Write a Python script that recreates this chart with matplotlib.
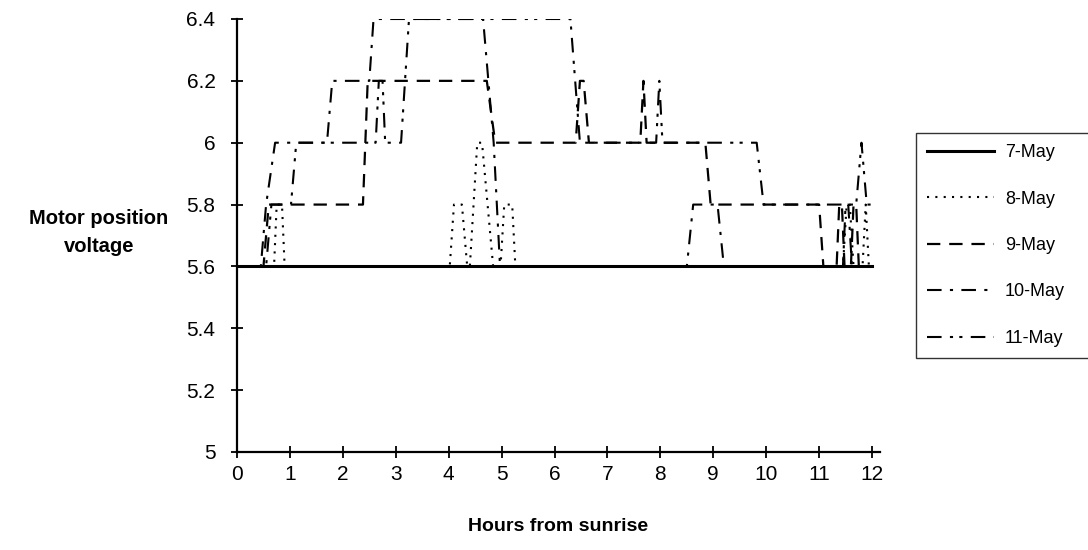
import matplotlib.pyplot as plt

plt.rcParams['font.family'] = ['Liberation Sans', 'DejaVu Sans']

# hours from sunrise / motor position voltage
may7_x = [0, 12]
may7_y = [5.6, 5.6]

may8_x = [0, 0.7, 0.75, 0.85, 0.9, 4.02, 4.1, 4.25, 4.35, 4.4, 4.54, 4.63, 4.84,
          4.98, 5.05, 5.2, 5.26, 11.45, 11.52, 11.58, 11.65, 11.82, 11.88, 11.94, 12]
may8_y = [5.6, 5.6, 5.8, 5.8, 5.6, 5.6, 5.8, 5.8, 5.6, 5.6, 6.0, 6.0, 5.6,
          5.6, 5.8, 5.8, 5.6, 5.6, 5.8, 5.8, 5.6, 5.6, 5.8, 5.6, 5.6]

may9_x = [0, 0.5, 0.6, 2.38, 2.47, 4.72, 4.88, 6.4, 6.48, 6.55, 6.65, 7.62, 7.68,
          7.74, 8.85, 8.95, 11.0, 11.08, 11.33, 11.38, 11.43, 11.48, 11.6, 11.65, 11.7, 11.75, 12]
may9_y = [5.6, 5.6, 5.8, 5.8, 6.2, 6.2, 6.0, 6.0, 6.2, 6.2, 6.0, 6.0, 6.2,
          6.0, 6.0, 5.8, 5.8, 5.6, 5.6, 5.8, 5.8, 5.6, 5.6, 5.8, 5.8, 5.6, 5.6]

may10_x = [0, 0.45, 0.55, 0.72, 1.7, 1.8, 2.5, 2.58, 4.65, 4.75, 4.85, 4.97,
           8.5, 8.62, 9.08, 9.2, 11.45, 11.5, 11.55, 11.62, 12]
may10_y = [5.6, 5.6, 5.8, 6.0, 6.0, 6.2, 6.2, 6.4, 6.4, 6.2, 6.0, 5.6,
           5.6, 5.8, 5.8, 5.6, 5.6, 5.8, 5.8, 5.6, 5.6]

may11_x = [0, 0.55, 0.65, 1.02, 1.12, 2.62, 2.68, 2.75, 2.8, 3.1, 3.25, 6.3, 6.48,
           7.92, 7.98, 8.04, 9.82, 9.95, 11.7, 11.8, 11.9, 12]
may11_y = [5.6, 5.6, 5.8, 5.8, 6.0, 6.0, 6.2, 6.2, 6.0, 6.0, 6.4, 6.4, 6.0,
           6.0, 6.2, 6.0, 6.0, 5.8, 5.8, 6.0, 5.8, 5.8]

y_ticks = [5, 5.2, 5.4, 5.6, 5.8, 6, 6.2, 6.4]
y_tick_labels = ['5', '5.2', '5.4', '5.6', '5.8', '6', '6.2', '6.4']
x_ticks = list(range(0, 13))

fig = plt.figure(figsize=(10.88, 5.5), dpi=100)
ax = fig.add_axes([237 / 1088, 98 / 550, 643 / 1088, 433 / 550])

ax.plot(may7_x, may7_y, color='black', lw=2.2, linestyle='-', label='7-May')
ax.plot(may8_x, may8_y, color='black', lw=1.5, linestyle=(0, (1, 3)), label='8-May')
ax.plot(may9_x, may9_y, color='black', lw=1.6, linestyle=(0, (6, 4)), label='9-May')
ax.plot(may10_x, may10_y, color='black', lw=1.5, linestyle=(0, (7, 4, 1.5, 4)), label='10-May')
ax.plot(may11_x, may11_y, color='black', lw=1.5, linestyle=(0, (7, 4, 1.5, 3, 1.5, 4)), label='11-May')

ax.set_xlim(0, 12.15)
ax.set_ylim(5, 6.4)
ax.set_xticks(x_ticks)
ax.set_yticks(y_ticks)
ax.set_yticklabels(y_tick_labels)
ax.tick_params(direction='inout', length=9, width=1.3, labelsize=15, colors='black')
ax.tick_params(axis='y', pad=11)
ax.tick_params(axis='x', pad=5)

for side in ['top', 'right']:
    ax.spines[side].set_visible(False)
for side in ['left', 'bottom']:
    ax.spines[side].set_linewidth(1.6)

ax.set_xlabel('Hours from sunrise', fontsize=14, fontweight='bold', labelpad=24)
ax.set_ylabel('Motor position\nvoltage', fontsize=14.5, fontweight='bold',
              rotation=0, ha='center', va='center', linespacing=1.6)
ax.yaxis.set_label_coords(-0.2146, 0.508)

leg = fig.legend(loc='upper left', bbox_to_anchor=(916 / 1088, 1 - 133 / 550 - 0.01, 180 / 1088, 0.01),
                 mode='expand', fontsize=13, frameon=True, fancybox=False, handlelength=3.7,
                 labelspacing=1.63, borderpad=0.62, handletextpad=0.6, borderaxespad=0)
leg.get_frame().set_edgecolor('black')
leg.get_frame().set_linewidth(1.0)

fig.savefig('out.png', dpi=100)
